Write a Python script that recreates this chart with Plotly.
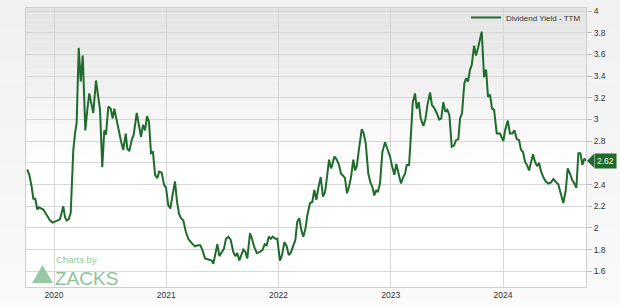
import plotly.graph_objects as go

# Time in decimal years (weekly observations) and dividend yield TTM (%)
years = [
    2019.762, 2019.780, 2019.801, 2019.816, 2019.833, 2019.851, 2019.864, 2019.882, 2019.905, 2019.935,
    2019.964, 2019.988, 2020.009, 2020.029, 2020.053, 2020.083, 2020.098, 2020.113, 2020.131, 2020.149,
    2020.158, 2020.172, 2020.187, 2020.202, 2020.220, 2020.238, 2020.256, 2020.279, 2020.297, 2020.314,
    2020.332, 2020.350, 2020.374, 2020.392, 2020.410, 2020.430, 2020.448, 2020.463, 2020.484, 2020.505,
    2020.523, 2020.537, 2020.559, 2020.579, 2020.597, 2020.617, 2020.639, 2020.653, 2020.671, 2020.692,
    2020.710, 2020.737, 2020.757, 2020.775, 2020.793, 2020.811, 2020.829, 2020.846, 2020.864, 2020.882,
    2020.900, 2020.920, 2020.938, 2020.959, 2020.980, 2020.998, 2021.018, 2021.036, 2021.054, 2021.078,
    2021.096, 2021.114, 2021.131, 2021.152, 2021.173, 2021.196, 2021.227, 2021.256, 2021.280, 2021.303,
    2021.321, 2021.345, 2021.375, 2021.405, 2021.419, 2021.434, 2021.455, 2021.473, 2021.494, 2021.514,
    2021.532, 2021.553, 2021.574, 2021.597, 2021.615, 2021.633, 2021.651, 2021.669, 2021.686, 2021.704,
    2021.722, 2021.746, 2021.764, 2021.782, 2021.806, 2021.835, 2021.859, 2021.877, 2021.895, 2021.913,
    2021.931, 2021.948, 2021.972, 2021.989, 2022.013, 2022.031, 2022.052, 2022.073, 2022.091, 2022.109,
    2022.132, 2022.150, 2022.167, 2022.185, 2022.203, 2022.221, 2022.241, 2022.257, 2022.281, 2022.301,
    2022.319, 2022.337, 2022.355, 2022.376, 2022.396, 2022.414, 2022.432, 2022.450, 2022.468, 2022.479,
    2022.497, 2022.519, 2022.539, 2022.557, 2022.577, 2022.592, 2022.610, 2022.628, 2022.646, 2022.666,
    2022.682, 2022.697, 2022.717, 2022.741, 2022.759, 2022.777, 2022.800, 2022.818, 2022.836, 2022.853,
    2022.869, 2022.884, 2022.904, 2022.925, 2022.949, 2022.973, 2022.993, 2023.014, 2023.032, 2023.049,
    2023.074, 2023.091, 2023.112, 2023.127, 2023.142, 2023.163, 2023.180, 2023.196, 2023.216, 2023.231,
    2023.249, 2023.267, 2023.290, 2023.308, 2023.326, 2023.350, 2023.367, 2023.385, 2023.409, 2023.432,
    2023.450, 2023.468, 2023.486, 2023.504, 2023.522, 2023.543, 2023.563, 2023.581, 2023.602, 2023.617,
    2023.635, 2023.655, 2023.670, 2023.688, 2023.706, 2023.721, 2023.742, 2023.759, 2023.777, 2023.795,
    2023.810, 2023.831, 2023.849, 2023.866, 2023.884, 2023.902, 2023.920, 2023.944, 2023.973, 2024.003,
    2024.018, 2024.042, 2024.062, 2024.083, 2024.101, 2024.122, 2024.143, 2024.160, 2024.178, 2024.196,
    2024.214, 2024.232, 2024.249, 2024.267, 2024.285, 2024.303, 2024.321, 2024.339, 2024.363, 2024.380,
    2024.404, 2024.428, 2024.448, 2024.470, 2024.493, 2024.511, 2024.537, 2024.559, 2024.576, 2024.597,
    2024.617, 2024.635, 2024.653, 2024.671, 2024.689, 2024.707, 2024.724, 2024.739,
]
yield_ttm = [
    2.54, 2.49, 2.38, 2.27, 2.27, 2.17, 2.19, 2.18, 2.17, 2.12,
    2.07, 2.05, 2.06, 2.07, 2.08, 2.20, 2.10, 2.07, 2.08, 2.14,
    2.44, 2.72, 2.87, 2.97, 3.66, 3.35, 3.59, 2.90, 3.09, 3.24,
    3.15, 3.06, 3.36, 3.21, 3.09, 2.56, 2.90, 2.86, 3.12, 3.10,
    3.01, 3.10, 2.98, 2.90, 2.80, 2.72, 2.87, 2.73, 2.71, 2.81,
    2.86, 3.06, 2.96, 2.84, 2.95, 2.90, 3.03, 2.98, 2.69, 2.70,
    2.49, 2.46, 2.52, 2.51, 2.40, 2.37, 2.21, 2.18, 2.29, 2.43,
    2.24, 2.13, 2.09, 2.07, 1.97, 1.90, 1.86, 1.83, 1.84, 1.84,
    1.80, 1.72, 1.71, 1.70, 1.67, 1.74, 1.85, 1.74, 1.77, 1.81,
    1.90, 1.92, 1.89, 1.78, 1.74, 1.77, 1.70, 1.75, 1.80, 1.78,
    1.72, 1.95, 1.90, 1.83, 1.77, 1.78, 1.80, 1.85, 1.84, 1.92,
    1.90, 1.92, 1.90, 1.90, 1.70, 1.75, 1.87, 1.83, 1.75, 1.77,
    1.84, 1.89, 2.06, 2.09, 1.98, 1.92, 2.00, 2.12, 2.23, 2.24,
    2.35, 2.26, 2.37, 2.47, 2.29, 2.33, 2.47, 2.63, 2.55, 2.58,
    2.66, 2.63, 2.58, 2.50, 2.48, 2.46, 2.32, 2.38, 2.47, 2.63,
    2.53, 2.57, 2.73, 2.91, 2.87, 2.78, 2.50, 2.42, 2.38, 2.30,
    2.35, 2.33, 2.41, 2.70, 2.79, 2.72, 2.66, 2.56, 2.49, 2.59,
    2.49, 2.41, 2.47, 2.50, 2.58, 2.58, 2.87, 3.16, 3.24, 3.10,
    3.16, 3.01, 2.94, 3.00, 3.13, 3.25, 3.13, 3.11, 3.06, 3.00,
    3.01, 3.16, 3.07, 3.09, 3.04, 2.75, 2.76, 2.81, 2.82, 3.01,
    3.06, 3.33, 3.38, 3.35, 3.46, 3.50, 3.68, 3.59, 3.66, 3.73,
    3.81, 3.39, 3.46, 3.21, 3.23, 3.10, 3.09, 2.87, 2.87, 2.80,
    2.90, 2.99, 2.87, 2.87, 2.90, 2.82, 2.81, 2.72, 2.70, 2.61,
    2.58, 2.53, 2.60, 2.68, 2.61, 2.57, 2.60, 2.52, 2.46, 2.43,
    2.41, 2.42, 2.45, 2.43, 2.40, 2.33, 2.23, 2.35, 2.55, 2.50,
    2.44, 2.41, 2.37, 2.69, 2.69, 2.58, 2.64, 2.62,
]
year_ticks = [2020, 2021, 2022, 2023, 2024]
year_labels = ["2020", "2021", "2022", "2023", "2024"]
yield_ticks = [1.6, 1.8, 2.0, 2.2, 2.4, 2.6, 2.8, 3.0, 3.2, 3.4, 3.6, 3.8, 4.0]
# the 2.6 label sits under the last-value badge in the reference
yield_labels = ["1.6", "1.8", "2", "2.2", "2.4", "", "2.8", "3", "3.2", "3.4", "3.6", "3.8", "4"]
series_name = "Dividend Yield - TTM"

LINE = "#1f6b2c"
FONT = "Liberation Sans, Arial, sans-serif"

fig = go.Figure()
fig.add_trace(go.Scatter(
    x=years, y=yield_ttm, mode="lines", name=series_name,
    line=dict(color=LINE, width=2), showlegend=True,
))

shapes = []
# subtle page gradient
nb = 20
for i in range(nb):
    g = int(241 + (250 - 241) * i / (nb - 1))
    shapes.append(dict(type="rect", xref="paper", yref="paper", layer="below",
                       x0=-0.1, x1=1.2, y0=1.1 - (i + 1) * 0.06, y1=1.1 - i * 0.06,
                       fillcolor=f"rgb({g},{g},{g})", line=dict(width=0)))
# plot area: white base then top gray gradient
shapes.append(dict(type="rect", xref="x domain", yref="y domain", layer="below",
                   x0=0, x1=1, y0=0, y1=1, fillcolor="#ffffff", line=dict(width=0)))
nb2 = 28
for i in range(nb2):
    g = int(227 + (255 - 227) * i / (nb2 - 1))
    shapes.append(dict(type="rect", xref="x domain", yref="y domain", layer="below",
                       x0=0, x1=1, y0=1 - (i + 1) * 0.02, y1=1 - i * 0.02,
                       fillcolor=f"rgb({g},{g},{g})", line=dict(width=0)))
# last value marker arrow
last_val = yield_ttm[-1]
shapes.append(dict(type="path", xref="paper", yref="y", xsizemode="pixel", ysizemode="pixel",
                   xanchor=1, yanchor=last_val, path="M 1,0 L 8,7 L 8,-7 Z",
                   fillcolor=LINE, line=dict(width=0), layer="above"))
# Zacks logo triangle
shapes.append(dict(type="path", xref="paper", yref="paper", xsizemode="pixel", ysizemode="pixel",
                   xanchor=0, yanchor=0, path="M 6,4 L 27,4 L 16.5,22 Z",
                   fillcolor="#8cc499", line=dict(width=0), layer="above", opacity=0.9))

annotations = [
    dict(xref="paper", yref="y", x=1, y=last_val, text=f"{last_val:.2f}", showarrow=False,
         xanchor="left", yanchor="middle", xshift=8, bgcolor=LINE, borderpad=2,
         font=dict(family=FONT, size=8.5, color="#ffffff")),
    dict(xref="paper", yref="paper", x=0, y=0, text="Charts by", showarrow=False,
         xanchor="left", yanchor="bottom", xshift=29, yshift=21, borderpad=0,
         font=dict(family=FONT, size=9.5, color="#93c79e")),
    dict(xref="paper", yref="paper", x=0, y=0, text="ZACKS", showarrow=False,
         xanchor="left", yanchor="top", xshift=28, yshift=20, borderpad=0,
         font=dict(family=FONT, size=19, color="#8cc499")),
]

fig.update_layout(
    width=620, height=305,
    margin=dict(l=26, r=34, t=8, b=18, pad=0, autoexpand=False),
    paper_bgcolor="#fafafa", plot_bgcolor="#ffffff",
    font=dict(family=FONT, size=8.5, color="#333333"),
    shapes=shapes, annotations=annotations,
    showlegend=True,
    legend=dict(x=1, y=1.018, xanchor="right", yanchor="top", bgcolor="rgba(0,0,0,0)",
                font=dict(family=FONT, size=8, color="#333333"), borderwidth=0,
                itemwidth=30),
    xaxis=dict(range=[2019.7506, 2024.739], tickmode="array", tickvals=year_ticks,
               ticktext=year_labels, showgrid=True, gridcolor="#d6d6d6", gridwidth=1,
               zeroline=False, showline=True, linecolor="#cfcfcf", mirror=True, ticks="",
               tickfont=dict(size=8.5, color="#333333")),
    yaxis=dict(range=[1.456, 4.028], side="right", tickmode="array", tickvals=yield_ticks,
               ticktext=yield_labels, showgrid=True, gridcolor="#d6d6d6", gridwidth=1,
               zeroline=False, showline=True, linecolor="#cfcfcf", mirror=True,
               ticks="outside", ticklen=5, tickcolor="#bdbdbd",
               tickfont=dict(size=8.5, color="#333333")),
    hovermode=False,
)

fig.write_html("out.html")
